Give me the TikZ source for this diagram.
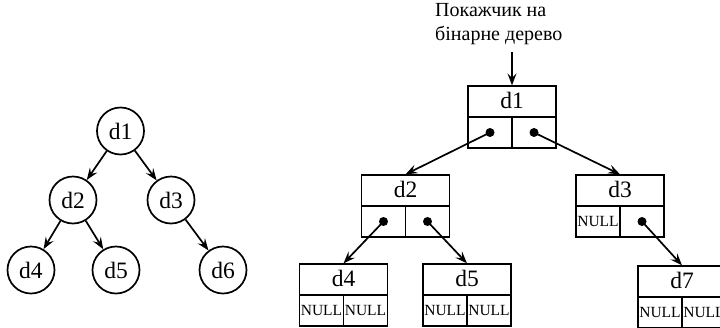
\documentclass[tikz,border=0pt]{standalone}
\usepackage{fontspec}
\setmainfont{Liberation Serif}
\usetikzlibrary{arrows.meta}
\tikzset{
  circnode/.style={circle, draw, line width=1.7pt, minimum size=47pt, inner sep=0pt, font=\fontsize{23.5}{25}\selectfont},
  recbox/.style={rectangle, draw, line width=1.3pt, minimum width=88pt, minimum height=62pt, inner sep=0pt},
  lbl/.style={font=\fontsize{23.5}{25}\selectfont, inner sep=0pt},
  nulltxt/.style={font=\fontsize{15.5}{16}\selectfont, inner sep=0pt},
  arr/.style={line width=1.7pt, -{Stealth[length=12pt,width=9pt,inset=4.5pt]}},
  ptrdot/.style={circle, fill, inner sep=0pt, minimum size=9pt},
}
\newcommand{\mybox}[4]{%
  \node[recbox] (#1) at (#2,#3) {};
  \draw[line width=1.3pt] (#1.west) -- (#1.east);
  \draw[line width=1.3pt] (#1.center) -- (#1.south);
  \node[lbl] (#1lab) at ([yshift=-15.5pt]#1.north) {#4};
  \coordinate (#1L) at ([xshift=-22pt,yshift=-15.5pt]#1.center);
  \coordinate (#1R) at ([xshift=22pt,yshift=-15.5pt]#1.center);
}
\begin{document}
\begin{tikzpicture}[x=1pt,y=-1pt]
\useasboundingbox (0,0) rectangle (720,327);
% left tree
\node[circnode] (c1) at (120.5,131) {d1};
\node[circnode] (c2) at (73,200) {d2};
\node[circnode] (c3) at (171,200) {d3};
\node[circnode] (c4) at (31,270) {d4};
\node[circnode] (c5) at (116,270) {d5};
\node[circnode] (c6) at (223,270) {d6};
\draw[arr] (c1) -- (c2);
\draw[arr] (c1) -- (c3);
\draw[arr] (c2) -- (c4);
\draw[arr] (c2) -- (c5);
\draw[arr] (c3) -- (c6);
% right structure
\node[anchor=north west, align=left, inner sep=0pt, font=\fontsize{20}{24.5}\selectfont] (ptr) at (435,3) {Покажчик на\\бінарне дерево};
\mybox{b1}{512}{117}{d1}
\mybox{b2}{405.5}{206}{d2}
\mybox{b3}{620}{206}{d3}
\mybox{b4}{343.5}{295}{d4}
\mybox{b5}{467}{295}{d5}
\mybox{b7}{682}{297}{d7}
\coordinate (ptrend) at (512,52);
\draw[arr] (ptrend) -- (b1.north);
\node[ptrdot] (p1l) at (b1L) {};
\node[ptrdot] (p1r) at (b1R) {};
\node[ptrdot] (p2l) at (b2L) {};
\node[ptrdot] (p2r) at (b2R) {};
\node[ptrdot] (p3r) at (b3R) {};
\draw[arr] (p1l.center) -- (b2.north);
\draw[arr] (p1r.center) -- (b3.north);
\draw[arr] (p2l.center) -- (b4.north);
\draw[arr] (p2r.center) -- (b5.north);
\draw[arr] (p3r.center) -- (b7.north);
\node[nulltxt] (n3l) at (b3L) {NULL};
\node[nulltxt] (n4l) at (b4L) {NULL};
\node[nulltxt] (n4r) at (b4R) {NULL};
\node[nulltxt] (n5l) at (b5L) {NULL};
\node[nulltxt] (n5r) at (b5R) {NULL};
\node[nulltxt] (n7l) at (b7L) {NULL};
\node[nulltxt] (n7r) at (b7R) {NULL};
\end{tikzpicture}
\end{document}
